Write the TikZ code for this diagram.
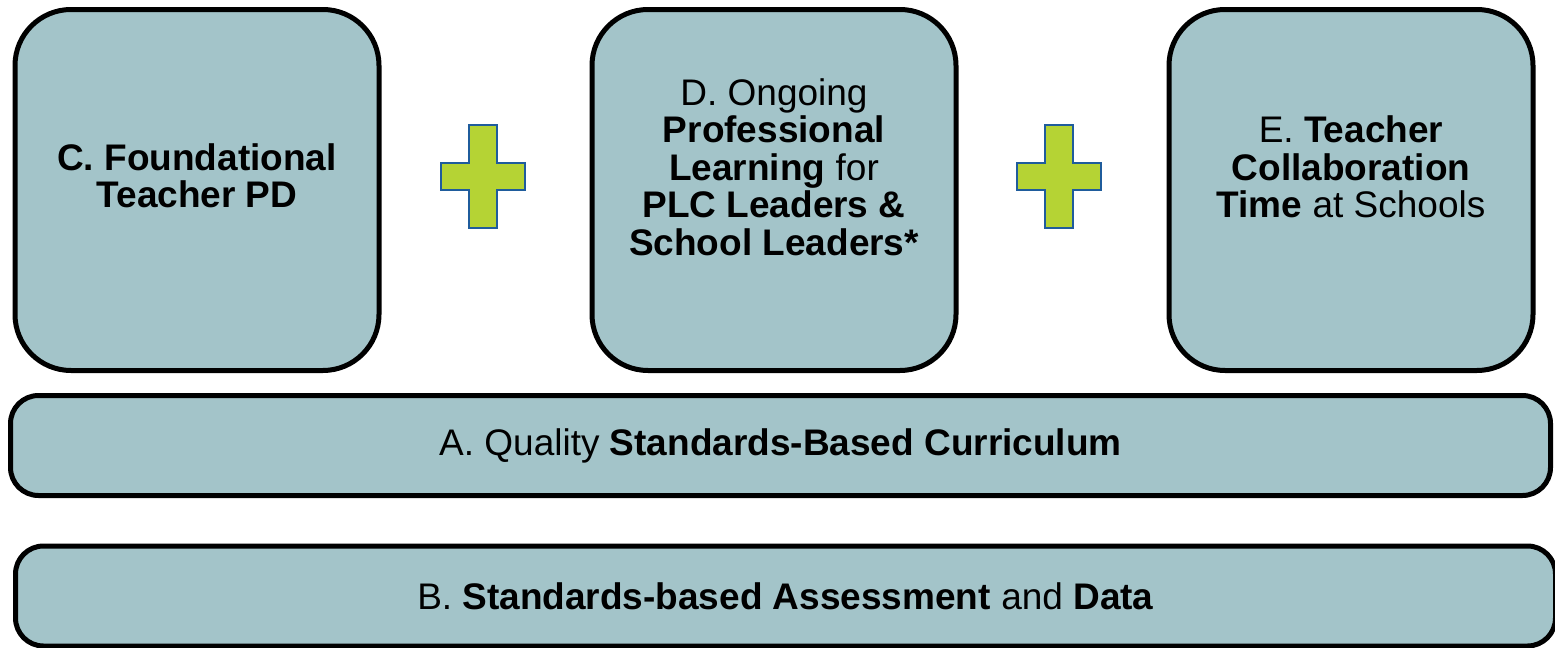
\documentclass[tikz,border=0pt]{standalone}
\usepackage{fontspec}
\setmainfont{Liberation Sans}
\usepackage{xcolor}
\usetikzlibrary{positioning}

\definecolor{boxfill}{HTML}{A3C4C9}
\definecolor{plusfill}{HTML}{B5D334}
\definecolor{plusedge}{HTML}{1F5C9C}

\begin{document}
\begin{tikzpicture}[
  x=0.5pt, y=-0.5pt,
  font=\fontsize{18.5pt}{18.75pt}\selectfont,
  tallbox/.style={draw, line width=2.5pt, fill=boxfill, rounded corners=28pt, minimum width=182pt, minimum height=180.5pt, inner sep=0pt},
  band/.style={draw, line width=2.5pt, fill=boxfill, rounded corners=14pt, minimum width=770pt, minimum height=50pt, align=center},
  txt/.style={align=center, inner sep=0pt},
  plus/.style={draw=plusedge, line width=1pt, fill=plusfill}
]
\useasboundingbox (0,0) rectangle (1555,648);
% top row
\node[tallbox] (c) at (197,190) {};
\node[tallbox, right=104pt of c] (d) {};
\node[tallbox, right=104pt of d] (e) {};
\node[txt] (ctext) at ([yshift=7pt]c.center) {\textbf{C. Foundational}\\\textbf{Teacher PD}};
\node[txt] (dtext) at ([yshift=11.5pt]d.center) {D. Ongoing\\\textbf{Professional}\\\textbf{Learning} for\\\textbf{PLC Leaders \&}\\\textbf{School Leaders*}};
\node[txt] (etext) at ([yshift=11.5pt]e.center) {E. \textbf{Teacher}\\\textbf{Collaboration}\\\textbf{Time} at Schools};
% plus signs
\foreach \px in {483,1059} {
  \draw[plus] (\px-14,176.5-51.5) -- ++(28,0) -- ++(0,37.5) -- ++(28,0) -- ++(0,27)
    -- ++(-28,0) -- ++(0,38.5) -- ++(-28,0) -- ++(0,-38.5) -- ++(-28,0) -- ++(0,-27)
    -- ++(28,0) -- cycle;
}
% bands
\node[band] (a) at (780.5,445.5) {A. Quality \textbf{Standards-Based Curriculum}};
\node[band] (b) at (785.5,596) {B. \textbf{Standards-based Assessment} and \textbf{Data}};
\end{tikzpicture}
\end{document}
